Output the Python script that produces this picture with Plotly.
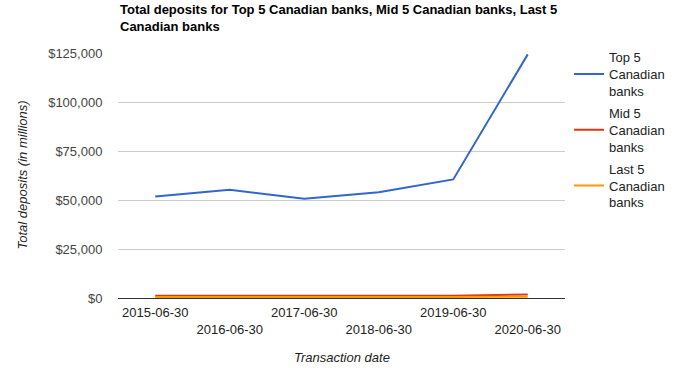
import plotly.graph_objects as go

dates = ["2015-06-30", "2016-06-30", "2017-06-30", "2018-06-30", "2019-06-30", "2020-06-30"]
top5 = [51800, 55200, 50600, 54000, 60500, 124300]
mid5 = [1200, 1100, 1100, 1100, 1200, 1800]
last5 = [500, 450, 450, 450, 500, 700]
series_names = ["Top 5<br>Canadian<br>banks", "Mid 5<br>Canadian<br>banks", "Last 5<br>Canadian<br>banks"]
colors = ["#3366cc", "#dc3912", "#ff9900"]
y_ticks = [0, 25000, 50000, 75000, 100000, 125000]

tick_text = [d if i % 2 == 0 else "<br>" + d for i, d in enumerate(dates)]
y_tick_text = ["${:,}".format(v) for v in y_ticks]

FONT = "Liberation Sans, Arial, sans-serif"
W, H = 689, 368
L, R, T, B = 118, 124, 53, 70
PW, PH = W - L - R, H - T - B

fig = go.Figure()
for i, (name, vals, col) in enumerate(zip(series_names, [top5, mid5, last5], colors)):
    fig.add_trace(go.Scatter(x=dates, y=vals, mode="lines", name=name,
                             legendgroup="g%d" % i,
                             line=dict(color=col, width=2)))

fig.update_layout(
    width=W, height=H,
    margin=dict(l=L, r=R, t=T, b=B, autoexpand=False),
    paper_bgcolor="white", plot_bgcolor="white",
    font=dict(family=FONT, size=13, color="#222222"),
    legend=dict(x=1.009, xanchor="left", y=1.044, yanchor="top",
                font=dict(family=FONT, size=13, color="#222222"),
                tracegroupgap=2, itemclick=False),
    showlegend=True,
)

fig.add_annotation(
    text="<b>Total deposits for Top 5 Canadian banks, Mid 5 Canadian banks, Last 5<br>Canadian banks</b>",
    xref="paper", yref="paper", x=(118 - L) / PW, y=1 + T / PH,
    xanchor="left", yanchor="top", align="left", showarrow=False,
    font=dict(family=FONT, size=13, color="#000000"))
fig.add_annotation(
    text="<i>Transaction date</i>",
    xref="paper", yref="paper", x=0.5, y=-(357 - (H - B)) / PH,
    xanchor="center", yanchor="middle", showarrow=False,
    font=dict(family=FONT, size=13, color="#222222"))
fig.add_annotation(
    text="<i>Total deposits (in millions)</i>",
    xref="paper", yref="paper", x=-(L - 22) / PW, y=0.5, textangle=-90,
    xanchor="center", yanchor="middle", showarrow=False,
    font=dict(family=FONT, size=13, color="#222222"))

fig.update_xaxes(
    type="category", range=[-0.5, 5.5], automargin=False,
    tickvals=dates, ticktext=tick_text,
    showgrid=False, showline=True, linecolor="#333333", linewidth=1,
    ticks="outside", ticklen=2, tickcolor="rgba(0,0,0,0)",
    tickfont=dict(family=FONT, size=13, color="#222222"),
)
fig.update_yaxes(
    range=[0, 125000], tickvals=y_ticks, ticktext=y_tick_text, automargin=False,
    showgrid=True, gridcolor="#cccccc", gridwidth=1, zeroline=False,
    ticks="outside", ticklen=12, tickcolor="rgba(0,0,0,0)",
    tickfont=dict(family=FONT, size=13, color="#444444"),
)

fig.write_html("out.html", config={"displayModeBar": False},
               post_script="document.body.style.margin='0';")
